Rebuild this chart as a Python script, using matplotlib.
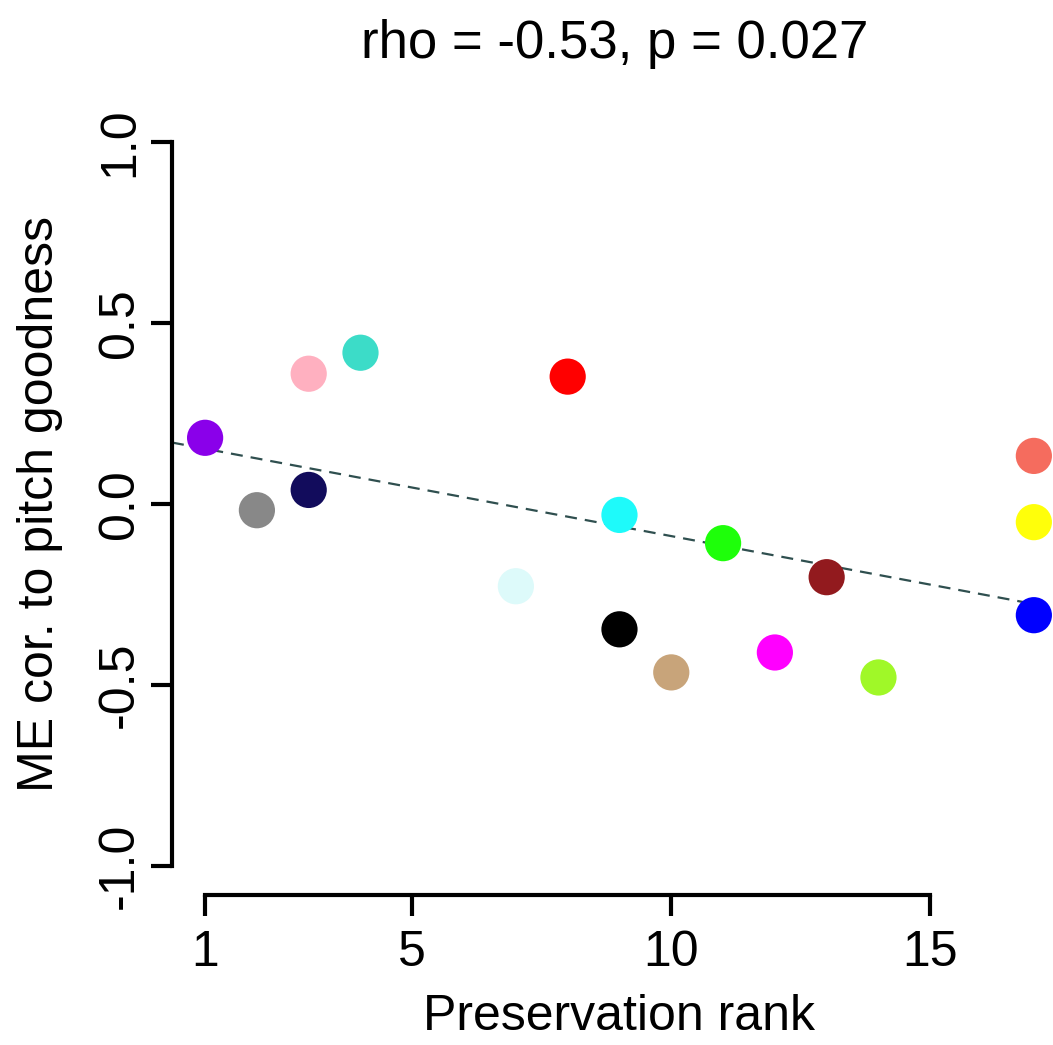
# Scatter of ME correlation vs preservation rank, R base-graphics look
import numpy as np
import matplotlib
matplotlib.use("Agg")
import matplotlib.pyplot as plt

plt.rcParams['font.family'] = ['Liberation Sans', 'DejaVu Sans']

# data
rank = [1, 2, 3, 3, 4, 7, 8, 9, 9, 10, 11, 12, 13, 14, 17, 17, 17]
me_cor = [0.183, -0.017, 0.039, 0.36, 0.418, -0.227, 0.352, -0.03, -0.346,
          -0.465, -0.108, -0.41, -0.202, -0.479, 0.133, -0.05, -0.307]
colors = ['#8A00EA', '#888888', '#120C5C', '#FFB0C0', '#3CDCC8', '#DDFAFA',
          '#FF0000', '#1EFAFA', '#000000', '#C8A47A', '#1EFF0A', '#FF00FF',
          '#921A1E', '#A0F828', '#F56C5E', '#FFFF0A', '#0000FF']
x_ticks = [1, 5, 10, 15]
y_ticks = [-1.0, -0.5, 0.0, 0.5, 1.0]
title = "rho = -0.53, p = 0.027"

fig = plt.figure(figsize=(10.53, 10.45), dpi=100)
ax = fig.add_axes([0.1633, 0.1435, 0.85, 0.7483])

ax.scatter(rank, me_cor, s=680, c=colors, edgecolors='none', zorder=3, clip_on=False)

# least squares fit line
m, b = np.polyfit(rank, me_cor, 1)
ax.axline((0, b), slope=m, color='#2F4F4F', lw=1.6, ls=(0, (5.4, 3.6)), zorder=2)

ax.set_xlim(0.36, 17.64)
ax.set_ylim(-1.08, 1.08)

for s in ['top', 'right']:
    ax.spines[s].set_visible(False)
ax.spines['left'].set_bounds(-1, 1)
ax.spines['bottom'].set_bounds(1, 15)
for s in ['left', 'bottom']:
    ax.spines[s].set_linewidth(3.0)

ax.set_xticks(x_ticks)
ax.set_xticklabels([str(t) for t in x_ticks])
ax.set_yticks(y_ticks)
ax.set_yticklabels(['%.1f' % t for t in y_ticks], rotation=90, va='center')
ax.tick_params(axis='both', length=15, width=3.0, labelsize=36, direction='out')
ax.tick_params(axis='x', pad=10)
ax.tick_params(axis='y', pad=6)

ax.set_xlabel("Preservation rank", fontsize=36, labelpad=13)
ax.set_ylabel("ME cor. to pitch goodness", fontsize=36, labelpad=24)
fig.text(0.584, 0.958, title, fontsize=38, ha='center', va='center')

fig.savefig("out.png", dpi=100)
